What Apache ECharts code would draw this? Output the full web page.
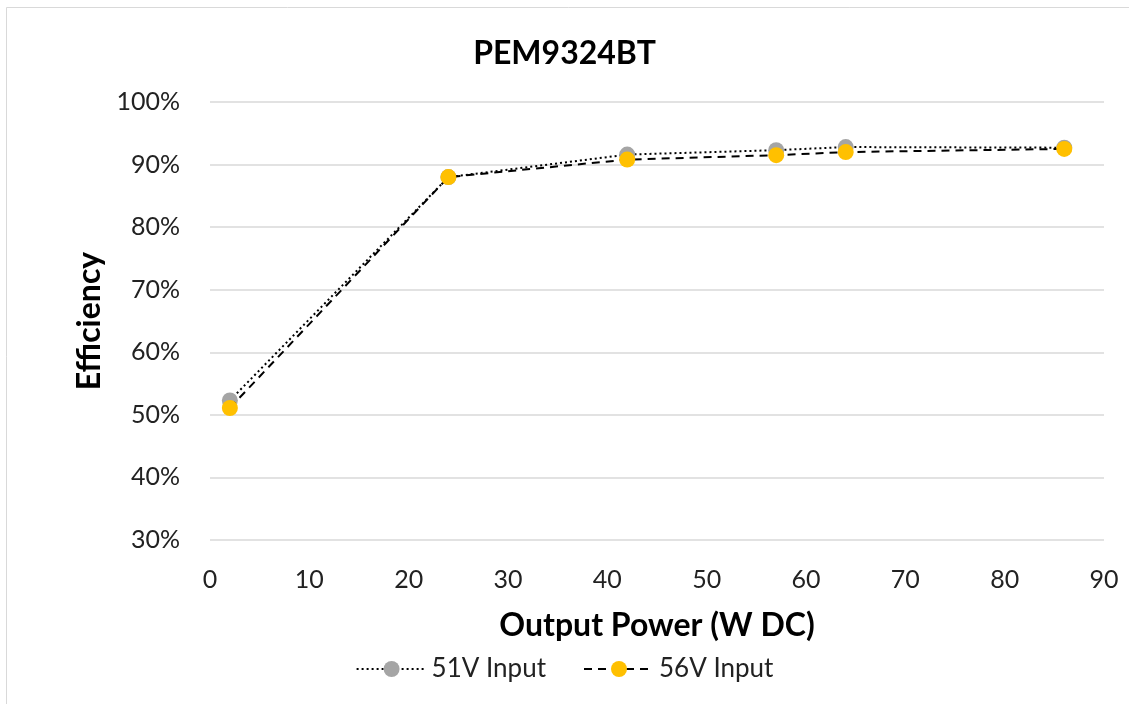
<!DOCTYPE html>
<html><head><meta charset="utf-8">
<script src="https://cdn.jsdelivr.net/npm/echarts@6/dist/echarts.min.js"></script>
<style>html,body{margin:0;padding:0;background:#fff}#c{width:1129px;height:704px}</style>
</head><body><div id="c"></div>
<script>
const title = 'PEM9324BT';
const xName = 'Output Power (W DC)';
const yName = 'Efficiency';
const seriesNames = ['51V Input', '56V Input'];
const power = [2, 24, 42, 57, 64, 86];
const eff51 = [52.3, 88.0, 91.6, 92.3, 92.8, 92.7];
const eff56 = [51.1, 88.0, 90.8, 91.5, 92.0, 92.5];
const yTicks = [30, 40, 50, 60, 70, 80, 90, 100];
const xTicks = [0, 10, 20, 30, 40, 50, 60, 70, 80, 90];

const FONT = 'Lato, "Open Sans", sans-serif';
const chart = echarts.init(document.getElementById('c'));
chart.setOption({
  animation: false,
  backgroundColor: '#fff',
  graphic: [{type:'rect', shape:{x:6.5,y:7.5,width:1130,height:710}, style:{fill:'none', stroke:'#d9d9d9', lineWidth:1}}],
  title: {text: title, left: 'center', top: 33, textStyle:{fontFamily:FONT, fontSize:32, fontWeight:'bold', color:'#000'}},
  grid: {left: 210, right: 25, top: 102, bottom: 164},
  legend: {
    bottom: 17, left: 'center', itemWidth: 70, itemHeight: 20, itemGap: 37,
    textStyle:{fontFamily:FONT, fontSize:26, color:'#222'},
    data: seriesNames
  },
  xAxis: {
    type:'value', min: xTicks[0], max: xTicks[xTicks.length-1], interval: 10,
    name: xName, nameLocation:'middle', nameGap: 70,
    nameTextStyle:{fontFamily:FONT, fontSize:32, fontWeight:'bold', color:'#000'},
    axisLine:{show:false}, axisTick:{show:false}, splitLine:{show:false},
    axisLabel:{fontFamily:FONT, fontSize:25, color:'#222', margin:27}
  },
  yAxis: {
    type:'value', min: yTicks[0], max: yTicks[yTicks.length-1], interval: 10,
    name: yName, nameLocation:'middle', nameGap: 104, nameRotate: 90,
    nameTextStyle:{fontFamily:FONT, fontSize:32, fontWeight:'bold', color:'#000'},
    axisLine:{show:false}, axisTick:{show:false},
    splitLine:{lineStyle:{color:'#d9d9d9', width:1.5}},
    axisLabel:{fontFamily:FONT, fontSize:25, color:'#222', margin:30, formatter:'{value}%'}
  },
  series: [
    {name: seriesNames[0], type:'line', data: power.map((p,i)=>[p, eff51[i]]),
     symbol:'circle', symbolSize:16, itemStyle:{color:'#a5a5a5'},
     lineStyle:{color:'#000', width:2, type:[2,3]}, z:2},
    {name: seriesNames[1], type:'line', data: power.map((p,i)=>[p, eff56[i]]),
     symbol:'circle', symbolSize:16, itemStyle:{color:'#ffc000'},
     lineStyle:{color:'#000', width:2, type:[8,6]}, z:3}
  ]
});
</script></body></html>
